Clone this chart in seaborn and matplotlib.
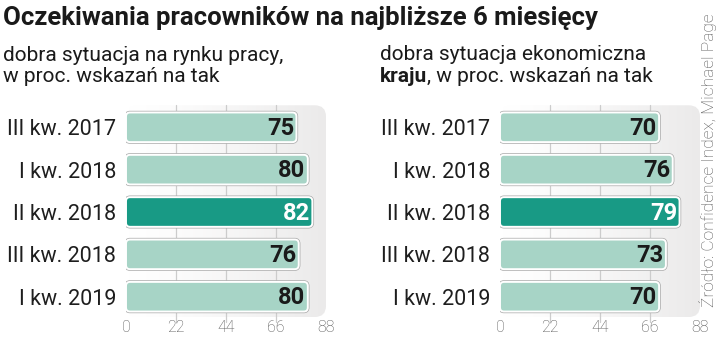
import numpy as np
import pandas as pd
import seaborn as sns
import matplotlib
matplotlib.use("Agg")
import matplotlib.pyplot as plt
from matplotlib.patches import FancyBboxPatch
from matplotlib import font_manager

# --- data -------------------------------------------------------------
quarters = ["III kw. 2017", "I kw. 2018", "II kw. 2018", "III kw. 2018", "I kw. 2019"]
labour_market = [75, 80, 82, 76, 80]
economy = [70, 76, 79, 73, 70]
highlight = "II kw. 2018"
x_ticks = [0, 22, 44, 66, 88]

title = "Oczekiwania pracowników na najbliższe 6 miesięcy"
subtitle_left = "dobra sytuacja na rynku pracy,\nw proc. wskazań na tak"
subtitle_right_bold = "kraju"
subtitle_right = "dobra sytuacja ekonomiczna"
source = "Źródło: Confidence Index, Michael Page"

LIGHT = "#a7d4c6"
DARK = "#189a85"

sns.set_theme(style="white")
names = {f.name for f in font_manager.fontManager.ttflist}
narrow = "Liberation Sans Narrow" if "Liberation Sans Narrow" in names else "Roboto"
plt.rcParams["font.family"] = [narrow, "DejaVu Sans"]

fig = plt.figure(figsize=(7.2, 3.4), dpi=100)
fig.patch.set_facecolor("white")

W, H = 720, 340


def fig_axes(x0, y0, x1, y1):
    return fig.add_axes([x0 / W, 1 - y1 / H, (x1 - x0) / W, (y1 - y0) / H])


def draw_panel(ax, values):
    df = pd.DataFrame({"quarter": quarters, "value": values})
    colors = {q: (DARK if q == highlight else LIGHT) for q in quarters}
    sns.barplot(data=df, x="value", y="quarter", hue="quarter", palette=colors,
                order=quarters, orient="h", width=0.7, saturation=1,
                legend=False, ax=ax)
    ax.set_xlim(0, 88)
    ax.set_ylim(4.55, -0.55)

    # soft grey background panel with rounded corner
    grad = np.linspace(0, 1, 256)[None, :] ** 1.3
    cmap = matplotlib.colors.LinearSegmentedColormap.from_list("bg", ["#ffffff", "#ebeaea"])
    bg = FancyBboxPatch((0, -0.52), 88, 5.0, boxstyle="round,pad=0,rounding_size=5",
                        mutation_aspect=0.053, facecolor="none", edgecolor="none",
                        zorder=0)
    ax.add_patch(bg)
    im = ax.imshow(grad, extent=(0, 88, 4.48, -0.52), aspect="auto", cmap=cmap,
                   zorder=0)
    im.set_clip_path(bg)

    for xt in x_ticks[1:-1]:
        ax.plot([xt, xt], [4.6, -0.52], color="#cccccc", lw=0.9, zorder=0.5,
                clip_on=False)

    # rounded bars built from the seaborn rectangles
    for patch, q, v in zip(ax.patches[:len(quarters)], quarters, values):
        x, y = patch.get_x(), patch.get_y()
        w, h = patch.get_width(), patch.get_height()
        fc = patch.get_facecolor()
        patch.set_visible(False)
        shadow = FancyBboxPatch((x, y), w, h, boxstyle="round,pad=0,rounding_size=1.8",
                                mutation_aspect=0.053, facecolor="none",
                                edgecolor="#a8a8a8", lw=2.4, zorder=2)
        ax.add_patch(shadow)
        bar = FancyBboxPatch((x, y), w, h, boxstyle="round,pad=0,rounding_size=1.8",
                             mutation_aspect=0.053, facecolor=fc,
                             edgecolor="white", lw=1.4, zorder=3)
        ax.add_patch(bar)
        ax.text(v - 1.0, y + h / 2 + 0.03, f"{v}", ha="right", va="center",
                fontsize=17, fontweight="bold",
                color="white" if q == highlight else "#1a1a1a", zorder=4)

    ax.set_xticks(x_ticks)
    ax.set_xticklabels([str(t) for t in x_ticks], fontsize=11.5, color="#555555",
                       family=["Roboto", "DejaVu Sans"], fontweight="light")
    ax.tick_params(axis="x", length=0, pad=0)
    ax.tick_params(axis="y", length=0, pad=7)
    ax.set_yticks(range(len(quarters)))
    ax.set_yticklabels(quarters, fontsize=15.5, color="#1e1e1e",
                       family=["Roboto", "DejaVu Sans"])
    ax.set_xlabel("")
    ax.set_ylabel("")
    ax.set_facecolor("none")
    for s in ax.spines.values():
        s.set_visible(False)


ax1 = fig_axes(126, 104, 326, 320)
draw_panel(ax1, labour_market)
ax2 = fig_axes(500, 104, 700, 320)
draw_panel(ax2, economy)

fig.text(3 / W, 1 - 18 / H, title, fontsize=18.5, fontweight="bold",
         color="#1a1a1a", va="center", ha="left")
fig.text(3 / W, 1 - 66 / H, subtitle_left, fontsize=15, color="#1a1a1a",
         va="center", ha="left", linespacing=1.1)
fig.text(380 / W, 1 - 55 / H, subtitle_right, fontsize=15, color="#1a1a1a",
         va="center", ha="left")
t = fig.text(380 / W, 1 - 77 / H, subtitle_right_bold, fontsize=15,
             fontweight="bold", color="#1a1a1a", va="center", ha="left")
fig.canvas.draw()
bb = t.get_window_extent()
fig.text(bb.x1 / W, 1 - 77 / H, ", w proc. wskazań na tak", fontsize=15,
         color="#1a1a1a", va="center", ha="left")

fig.text(708 / W, 1 - 160 / H, source, rotation=90, fontsize=12.5,
         color="#555555", va="center", ha="center",
         family=["Roboto", "DejaVu Sans"], fontweight="light")

fig.savefig("out.png", dpi=100)
